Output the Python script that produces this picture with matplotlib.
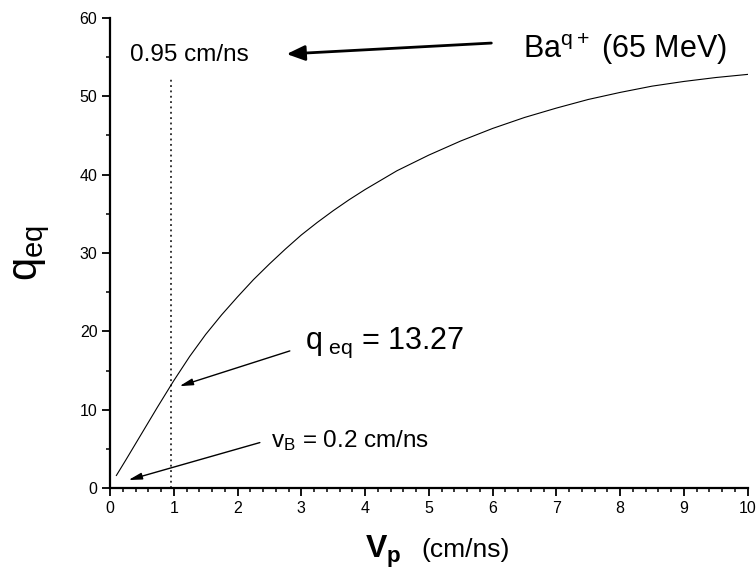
import matplotlib
matplotlib.use("Agg")
import matplotlib.pyplot as plt
from matplotlib.ticker import MultipleLocator

plt.rcParams['font.family'] = ['Liberation Sans', 'DejaVu Sans']
plt.rcParams['mathtext.fontset'] = 'custom'
plt.rcParams['mathtext.rm'] = 'Liberation Sans'
plt.rcParams['mathtext.it'] = 'Liberation Sans'
plt.rcParams['mathtext.bf'] = 'Liberation Sans:bold'

# projectile velocity (cm/ns) and equilibrium charge state
v_p = [0.1, 0.25, 0.5, 0.75, 1.0, 1.25, 1.5, 1.75, 2.0, 2.25, 2.5, 2.75,
       3.0, 3.25, 3.5, 3.75, 4.0, 4.5, 5.0, 5.5, 6.0, 6.5, 7.0, 7.5,
       8.0, 8.5, 9.0, 9.5, 10.0]
q_eq = [1.6, 3.6, 7.0, 10.4, 13.7, 16.8, 19.6, 22.1, 24.4, 26.6, 28.6, 30.5,
        32.3, 33.9, 35.4, 36.8, 38.1, 40.5, 42.5, 44.3, 45.9, 47.3, 48.5, 49.6,
        50.5, 51.3, 51.9, 52.4, 52.8]

v_mark = 0.95
q_mark = 13.27
v_bohr = 0.2


def main():
    fig = plt.figure(figsize=(7.56, 5.75), dpi=100)
    ax = fig.add_axes([0.1455, 0.1513, 0.8435, 0.8174])

    ax.plot(v_p, q_eq, color='black', lw=0.8)
    ax.plot([v_mark, v_mark], [0, 52.5], color='black', lw=1.1, ls=(0, (1.2, 2.3)))

    ax.set_xlim(0, 10)
    ax.set_ylim(0, 60)
    ax.xaxis.set_major_locator(MultipleLocator(1))
    ax.xaxis.set_minor_locator(MultipleLocator(0.2))
    ax.yaxis.set_major_locator(MultipleLocator(10))
    ax.yaxis.set_minor_locator(MultipleLocator(5))
    ax.spines['top'].set_visible(False)
    ax.spines['right'].set_visible(False)
    ax.spines['left'].set_linewidth(1.6)
    ax.spines['bottom'].set_linewidth(1.6)
    ax.tick_params(which='major', direction='out', length=5.5, width=1.3, labelsize=11.5)
    ax.tick_params(which='minor', direction='out', length=3, width=1.1)

    ax.set_ylabel(r'q$_{\mathrm{eq}}$', fontsize=30, labelpad=20)
    ax.text(0.40, -0.149, r'$\mathbf{V}_{\mathbf{p}}$', transform=ax.transAxes,
            fontsize=23, ha='left', va='baseline')
    ax.text(0.4886, -0.147, '(cm/ns)', transform=ax.transAxes,
            fontsize=19, ha='left', va='baseline')

    ax.text(0.31, 55.3, '0.95 cm/ns', fontsize=17.5, ha='left', va='center')
    ax.text(6.47, 56.0, r'Ba$^{\mathrm{q+}}$ (65 MeV)', fontsize=22, ha='left', va='center')
    ax.annotate('', xy=(2.77, 55.4), xytext=(5.98, 56.8),
                arrowprops=dict(arrowstyle='-|>,head_length=0.55,head_width=0.23',
                                mutation_scale=20, lw=2, color='black',
                                shrinkA=0, shrinkB=0))

    ax.text(3.06, 17.75, r'q$_{\ \mathrm{eq}}$ = ' + f'{q_mark:.2f}', fontsize=22,
            ha='left', va='baseline')
    ax.annotate('', xy=(1.09, 13.0), xytext=(2.82, 17.5),
                arrowprops=dict(arrowstyle='-|>,head_length=0.8,head_width=0.2',
                                mutation_scale=10, lw=1, color='black',
                                shrinkA=0, shrinkB=0))

    ax.text(2.53, 5.27, r'v$_{\mathrm{B}}$ = ' + f'{v_bohr} cm/ns', fontsize=17.5,
            ha='left', va='baseline')
    ax.annotate('', xy=(0.29, 1.02), xytext=(2.35, 5.8),
                arrowprops=dict(arrowstyle='-|>,head_length=0.8,head_width=0.2',
                                mutation_scale=10, lw=1, color='black',
                                shrinkA=0, shrinkB=0))

    fig.savefig('out.png', dpi=100)


if __name__ == "__main__":
    main()
